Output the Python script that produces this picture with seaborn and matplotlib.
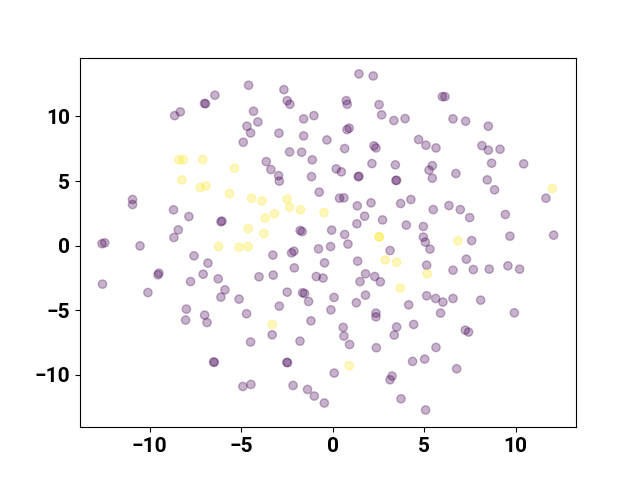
import numpy as np
import pandas as pd
import matplotlib
matplotlib.use("Agg")
import matplotlib.pyplot as plt
import seaborn as sns

plt.rcParams['font.family'] = ['Roboto', 'DejaVu Sans']
plt.rcParams['font.weight'] = 'bold'

# cluster 0 (purple)
x0 = [-4.59, -6.43, -7.0, -6.94, -8.32, -8.63, -4.88, -10.93, -10.93, -8.69,
      -7.85, -6.10, -6.04, -8.43, -8.67, -12.6, -12.45, -10.52,
      1.44, 2.22, -2.66, -2.48, -2.33, 0.75, 0.80, 2.54, -4.32, -4.08, -4.68, -4.48,
      -1.58, -1.02, 2.68, 3.35, 3.96, -2.93, -1.58, -0.31, 0.79, 0.91,
      4.70, 0.66, 2.26, 2.37, -2.35, -1.69, -1.11, -3.62, -3.37, -2.95,
      -2.91, -1.15, 0.20, 0.48, 2.15, 1.40, 1.44, 3.43, 3.46, 3.50,
      -0.73, 0.38, 0.62, 1.35, 2.10, 3.72, 4.28, 1.75, 2.73, 1.33,
      4.03, -1.77, -1.66, -0.05, 0.66, 0.84,
      6.0, 6.14, 6.58, 7.27, 8.51, 5.10, 5.65, 8.16, 8.51, 9.15,
      5.45, 5.27, 5.45, 6.74, 8.69, 10.44, 8.45, 8.85, 11.66, 5.50,
      6.36, 6.98, 7.49, 9.44, 4.96, 4.96, 5.07, 7.60, 9.69, 12.08,
      5.32, 5.14, 7.31, 6.58, 7.69, 8.56, 9.58, 10.22, 5.14, 5.63,
      6.03, 6.58, 8.09, 5.90, 9.93, 4.43, 7.25, 7.43, 5.65, 5.03,
      4.37, 6.78, 5.08,
      -7.57, -6.81, -9.49, -9.54, -12.57, -10.09, -7.76, -7.07, -6.25, -5.88,
      -6.10, -5.11, -4.70, -7.99, -8.03, -6.99, -6.86, -4.48, -6.50, -6.46,
      -4.90, -4.46,
      -3.26, -2.24, -2.11, -0.77, -0.11, 3.14, 1.37, -0.44, -2.09, -4.02,
      -3.24, -0.89, -0.52, 1.80, 2.30, 1.50, 2.61, -2.48, -1.64, -1.53,
      -1.31, -2.91, 0.08, -0.09, 1.30, 1.80, 2.37, 2.37, 4.16, 3.50,
      3.37, -3.30, -1.18, -1.78, 0.58, 0.62, 0.93, 2.39, -2.50, -2.46,
      0.09, 3.25, 3.14, 3.74, -2.16, -1.37, -1.0, -0.45]
y0 = [12.41, 11.64, 11.0, 10.98, 10.35, 10.06, 8.0, 3.57, 3.18, 2.77,
      2.25, 1.85, 1.90, 1.22, 0.63, 0.15, 0.22, -0.02,
      13.29, 13.13, 12.07, 11.22, 10.94, 11.22, 10.94, 10.91, 10.40, 9.57, 9.24, 8.72,
      9.81, 10.06, 10.12, 9.68, 9.83, 8.70, 8.49, 8.18, 8.98, 9.09,
      8.21, 7.51, 7.72, 7.56, 7.25, 7.23, 6.64, 6.50, 5.89, 5.42,
      4.99, 5.34, 5.94, 5.71, 6.35, 5.34, 5.36, 6.25, 5.04, 5.06,
      4.14, 3.67, 3.70, 3.08, 3.31, 3.26, 3.57, 2.28, 1.99, 1.69,
      1.59, 1.17, 1.09, 1.20, 0.86, 0.12,
      11.53, 11.53, 9.81, 9.63, 9.24, 7.77, 7.56, 7.74, 7.39, 7.46,
      6.19, 5.84, 5.22, 5.58, 6.38, 6.33, 5.09, 4.32, 3.67, 2.79,
      3.10, 2.79, 2.17, 2.41, 1.48, 0.66, 0.27, 0.39, 0.73, 0.81,
      -0.27, -1.51, -1.05, -1.90, -1.85, -1.82, -1.56, -1.82, -3.88, -4.09,
      -4.37, -4.09, -4.22, -5.22, -5.20, -6.10, -6.54, -6.69, -7.88, -8.78,
      -8.96, -9.53, -12.72,
      -0.79, -1.35, -2.13, -2.26, -2.98, -3.63, -2.78, -2.21, -2.57, -3.42,
      -3.98, -4.14, -5.27, -4.91, -5.76, -5.38, -5.95, -7.46, -9.0, -9.03,
      -10.90, -10.74,
      -0.73, -0.56, -0.43, -0.25, -0.07, -0.38, -1.20, -1.33, -1.72, -2.41,
      -2.28, -2.39, -2.51, -2.18, -2.39, -2.78, -2.80, -3.60, -3.65, -3.70,
      -4.32, -4.68, -4.01, -4.97, -4.42, -3.83, -5.22, -5.51, -4.58, -6.30,
      -6.92, -6.90, -5.82, -7.39, -6.33, -7.0, -7.65, -7.90, -9.03, -9.06,
      -9.86, -10.09, -10.38, -11.85, -10.82, -11.13, -11.64, -12.18]

# cluster 1 (yellow)
x1 = [-8.39, -8.16, -7.10, -5.36, -8.23, -7.23, -6.92, -5.63, -4.43, -4.61,
      -6.23, -5.10, -4.61, -3.86, -2.48, -2.35, -1.75, -3.17, -3.68, -0.47,
      -3.75, 2.54, 2.56, 12.01, 6.85, 5.17, 2.88, 3.50, 3.70, -3.30, 0.91]
y1 = [6.64, 6.66, 6.66, 5.99, 5.09, 4.49, 4.62, 4.03, 3.67, 1.32,
      -0.07, -0.12, -0.07, 3.46, 3.60, 2.98, 2.77, 2.46, 2.13, 2.56,
      0.94, 0.68, 0.69, 4.42, 0.37, -2.18, -1.10, -1.28, -3.29, -6.10, -9.30]

df = pd.DataFrame({
    "x": x0 + x1,
    "y": y0 + y1,
    "label": [0] * len(x0) + [1] * len(x1),
})

# viridis end colours
cmap = plt.get_cmap("viridis")
pal = {0: cmap(0.0), 1: cmap(1.0)}

fig, ax = plt.subplots(figsize=(6.4, 4.8), dpi=100)
sns.scatterplot(data=df, x="x", y="y", hue="label", palette=pal,
                alpha=0.3, s=36, linewidth=1.0, edgecolor="face",
                legend=False, ax=ax)
ax.set(xlabel="", ylabel="")
ax.set_xlim(-13.8, 13.3)
ax.set_ylim(-14.05, 14.55)
ax.tick_params(labelsize=15)
for lbl in ax.get_xticklabels() + ax.get_yticklabels():
    lbl.set_fontweight("bold")

fig.savefig("out.png")
